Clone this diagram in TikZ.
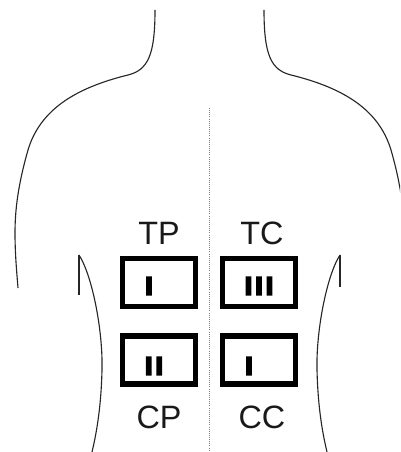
\documentclass[tikz,border=0pt]{standalone}
\usepackage{fontspec}
\setmainfont{Liberation Sans}
\newfontface\numfont{Liberation Sans Bold}[FakeBold=8,LetterSpace=14]
\usepackage{tikz}
\usetikzlibrary{
positioning,
calc
}

\begin{document}
\begin{tikzpicture}[x=0.025cm,y=-0.025cm,
      outline/.style={line width=0.8pt,black!85},
      zone/.style={draw,rectangle,line width=3.9pt,minimum width=1.82cm,minimum height=1.19cm,inner sep=0pt},
      zonename/.style={inner sep=0pt,font=\fontsize{23}{26}\selectfont,black!90},
      grade/.style={inner sep=0pt,font=\numfont\fontsize{18}{20}\selectfont}]
      \useasboundingbox (0,0) rectangle (400,452);
      \clip (0,0) rectangle (400,452);

      % neck and shoulders
      \draw[outline] (155,10) .. controls (155,55) and (148,70) .. (128,75)
            .. controls (75,88) and (40,110) .. (28,150)
            .. controls (18,185) and (15,210) .. (15,233)
            .. controls (15,255) and (17,275) .. (18,288);
      \draw[outline] (264,10) .. controls (264,55) and (271,70) .. (291,75)
            .. controls (344,88) and (379,110) .. (391,150)
            .. controls (401,185) and (404,210) .. (404,233)
            .. controls (404,255) and (402,275) .. (401,288);

      % flanks under the arms
      \draw[outline] (79,255) -- (79,295);
      \draw[outline] (79,255) .. controls (92,275) and (103,330) .. (102,370)
            .. controls (101,410) and (96,435) .. (92,452);
      \draw[outline] (340,255) -- (340,287);
      \draw[outline] (340,255) .. controls (327,275) and (316,330) .. (317,370)
            .. controls (318,410) and (323,435) .. (327,452);

      % spine
      \coordinate (spinetop) at (209.5,108);
      \coordinate (spinebot) at (209.5,452);
      \draw[gray,line width=0.5pt,densely dotted] (spinetop) -- (spinebot);

      % the four zones
      \node[zone] (tp) at (159,282.5) {};
      \node[zone] (tc) at (259,282.5) {};
      \node[zone] (cp) at (159,360) {};
      \node[zone] (cc) at (259,360) {};

      \node[grade] (tpg) at (149,286) {I};
      \node[grade] (tcg) at (259,286) {III};
      \node[grade] (cpg) at (154,366) {II};
      \node[grade] (ccg) at (249,366) {I};

      \node[zonename] (tpl) at (159,233) {TP};
      \node[zonename] (tcl) at (262,233) {TC};
      \node[zonename] (cpl) at (159,417) {CP};
      \node[zonename] (ccl) at (262,417) {CC};

\end{tikzpicture}
\end{document}
